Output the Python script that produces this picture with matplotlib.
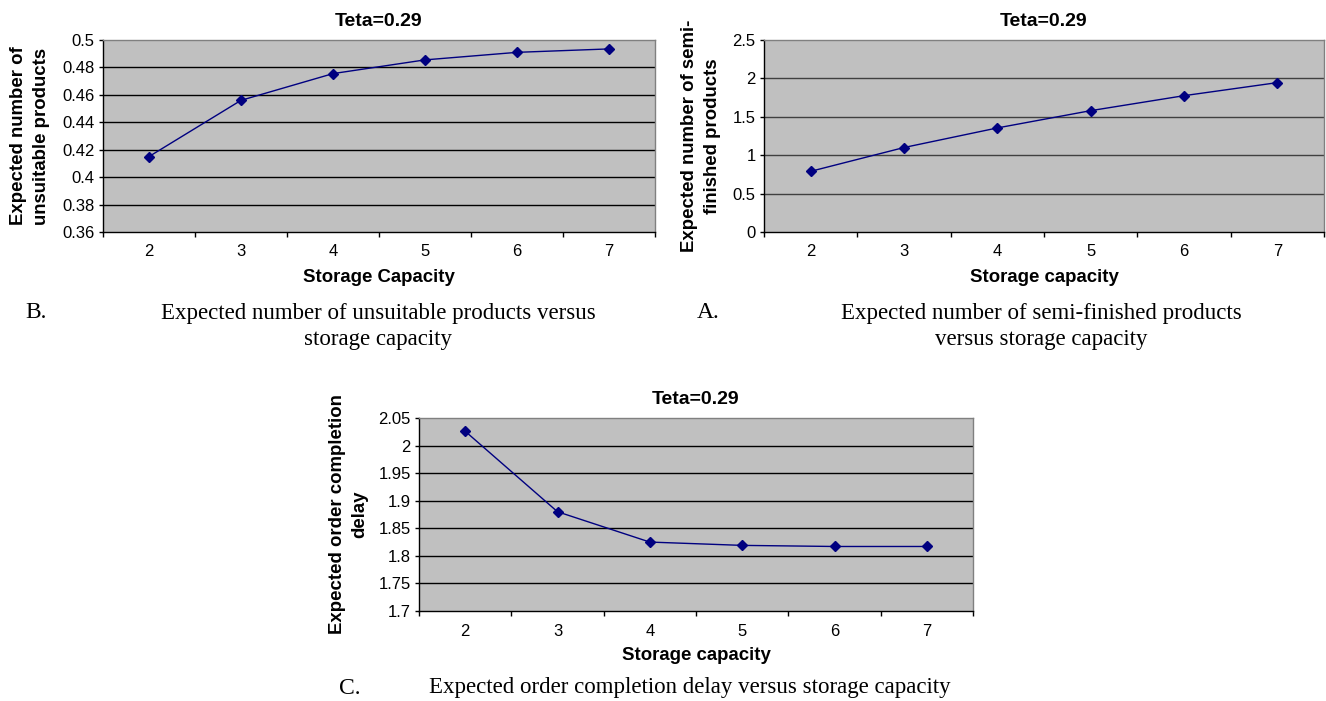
import matplotlib
matplotlib.use("Agg")
import matplotlib.pyplot as plt
from matplotlib.ticker import FixedLocator, FuncFormatter

plt.rcParams['font.family'] = ['Liberation Sans', 'DejaVu Sans']

capacity = [2, 3, 4, 5, 6, 7]
unsuitable = [0.415, 0.456, 0.4755, 0.4855, 0.491, 0.4935]
semi_finished = [0.79, 1.10, 1.355, 1.58, 1.775, 1.945]
delay = [2.026, 1.880, 1.825, 1.819, 1.817, 1.817]

yticks_b = [0.36, 0.38, 0.40, 0.42, 0.44, 0.46, 0.48, 0.50]
yticks_a = [0, 0.5, 1.0, 1.5, 2.0, 2.5]
yticks_c = [1.70, 1.75, 1.80, 1.85, 1.90, 1.95, 2.00, 2.05]

title_text = "Teta=0.29"

W, H = 1326, 701
fig = plt.figure(figsize=(W / 100, H / 100), dpi=100)


def px_axes(l, t, r, b):
    return fig.add_axes([l / W, 1 - b / H, (r - l) / W, (b - t) / H])


def style(ax, x, y, yticks, gridcolor):
    ax.set_facecolor('#C0C0C0')
    ax.plot(x, y, color='#000080', lw=1.0, marker='D', markersize=5,
            markerfacecolor='#000080', markeredgecolor='#000080', zorder=3)
    ax.set_xlim(x[0] - 0.5, x[-1] + 0.5)
    ax.set_ylim(yticks[0], yticks[-1])
    ax.set_xticks(x)
    ax.set_xticklabels([str(v) for v in x])
    ax.xaxis.set_minor_locator(FixedLocator([v - 0.5 for v in x] + [x[-1] + 0.5]))
    ax.tick_params(axis='x', which='major', length=0, pad=9, labelsize=12)
    ax.tick_params(axis='x', which='minor', length=3.6, direction='out', width=1)
    ax.set_yticks(yticks)
    ax.yaxis.set_major_formatter(FuncFormatter(lambda v, p: f"{v:g}"))
    ax.tick_params(axis='y', length=3, direction='out', pad=3, labelsize=12, width=1)
    for v in yticks[1:-1]:
        ax.axhline(v, color=gridcolor, lw=1.0, zorder=1)
    ax.spines['left'].set_color('black')
    ax.spines['bottom'].set_color('black')
    ax.spines['top'].set_color('#808080')
    ax.spines['right'].set_color('#808080')
    for s in ax.spines.values():
        s.set_linewidth(1.0)


ax1 = px_axes(103, 40, 655, 232)
style(ax1, capacity, unsuitable, yticks_b, 'black')
ax2 = px_axes(764, 40, 1324, 232)
style(ax2, capacity, semi_finished, yticks_a, '#404040')
ax3 = px_axes(419, 418, 973, 611)
style(ax3, capacity, delay, yticks_c, 'black')


def ftext(x, y, s, **kw):
    fig.text(x / W, 1 - y / H, s, **kw)


bold = dict(fontweight='bold', ha='center', va='center')
# titles
ftext(379, 21, title_text, fontsize=14, **bold)
ftext(1044, 21, title_text, fontsize=14, **bold)
ftext(696, 400, title_text, fontsize=14, **bold)
# x labels
ftext(379, 277, "Storage Capacity", fontsize=13.4, **bold)
ftext(1044, 277, "Storage capacity", fontsize=13.4, **bold)
ftext(696, 655, "Storage capacity", fontsize=13.4, **bold)
# y labels
ftext(30, 136, "Expected number of\nunsuitable products", fontsize=13.4,
      rotation=90, linespacing=1.4, multialignment='center', **bold)
ftext(701, 136, "Expected number of semi-\nfinished products", fontsize=13.4,
      rotation=90, linespacing=1.4, multialignment='center', **bold)
ftext(349, 514, "Expected order completion\ndelay", fontsize=13.4,
      rotation=90, linespacing=1.4, multialignment='center', **bold)

serif = dict(family=['Liberation Serif', 'DejaVu Serif'], ha='center', va='center')
ftext(36, 313, "B.", fontsize=17, **serif)
ftext(378, 326.5, "Expected number of unsuitable products versus\nstorage capacity",
      fontsize=16.5, linespacing=1.28, **serif)
ftext(708, 313, "A.", fontsize=17, **serif)
ftext(1041, 326.5, "Expected number of semi-finished products\nversus storage capacity",
      fontsize=16.5, linespacing=1.28, **serif)
ftext(350, 688, "C.", fontsize=17, **serif)
ftext(690, 688, "Expected order completion delay versus storage capacity",
      fontsize=16.5, **serif)

fig.savefig("out.png", dpi=100)
